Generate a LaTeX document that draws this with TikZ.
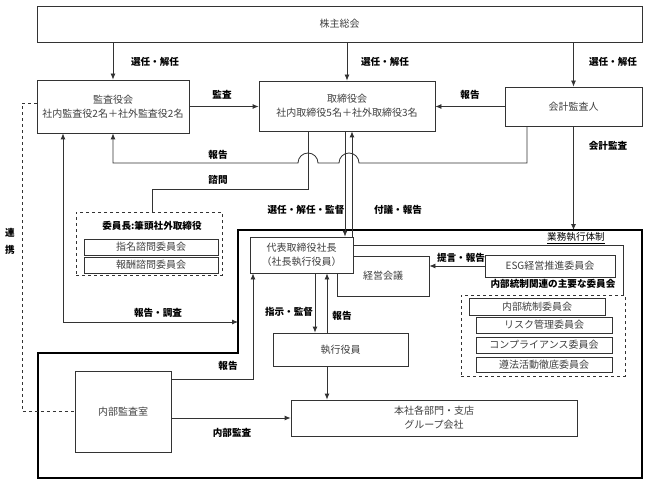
\documentclass[tikz,border=0pt]{standalone}
\usepackage{fontspec}
\setmainfont{Noto Sans CJK JP}
\usetikzlibrary{arrows.meta,positioning}

\begin{document}
\begin{tikzpicture}[x=1pt,y=-1pt]

\tikzset{box/.style={draw=black!80,line width=.8pt,fill=white,inner sep=0pt,shape=rectangle,text=black!75,align=center,font=\fontsize{10}{14}\selectfont},
dbox/.style={draw=black!80,line width=.7pt,dashed,inner sep=0pt,shape=rectangle},
lbl/.style={inner sep=1pt,align=center,font=\fontsize{9.6}{17}\selectfont\bfseries},
conn/.style={draw=black!80,line width=.8pt},
arr/.style={conn,-{Latex[length=6pt,width=5pt]}},
frame/.style={draw=black,line width=2pt}}

\useasboundingbox (0,0) rectangle (648,484);

% 業務執行体制
\draw[frame] (238,230) -- (642,230) -- (642,478) -- (38,478) -- (38,353) -- (238,353) -- cycle;
\node (gyomu) at (576,238) {\fontsize{9.6}{12}\selectfont\underline{業務執行体制}};

% Boxes
\node (soukai) [box,minimum width=605pt,minimum height=36pt] at (339.5,24) {株主総会};
\node (kansa) [box,minimum width=152pt,minimum height=53pt] at (113,106.5) {監査役会\\社内監査役2名＋社外監査役2名};
\node (tori) [box,minimum width=176pt,minimum height=50pt] at (347,106) {取締役会\\社内取締役5名＋社外取締役3名};
\node (kaikei) [box,minimum width=137pt,minimum height=39pt] at (573.5,106.5) {会計監査人};

\node (iin) [dbox,minimum width=146pt,minimum height=63pt] at (149,243.5) {};
\node (iinlbl) [lbl] at (152,226) {委員長:筆頭社外取締役};
\node (shimei) [box,minimum width=134pt,minimum height=16pt] at (151,247) {指名諮問委員会};
\node (houshu) [box,minimum width=134pt,minimum height=16pt] at (151,265) {報酬諮問委員会};

\node (keiei) [box,minimum width=92pt,minimum height=40pt] at (383,276) {経営会議};
\node (shacho) [box,minimum width=103pt,minimum height=36pt] at (301.5,255) {代表取締役社長\\（社長執行役員）};
\node (esg) [box,minimum width=130pt,minimum height=22pt] at (550,266) {ESG経営推進委員会};
\node (naibulbl) [lbl] at (553,284) {内部統制関連の主要な委員会};

\node (nt) [dbox,minimum width=164pt,minimum height=81pt] at (543,335.5) {};
\node (c1) [box,minimum width=136pt,minimum height=17pt] at (537,306.5) {内部統制委員会};
\node (c2) [box,minimum width=136pt,minimum height=16pt] at (544,325) {リスク管理委員会};
\node (c3) [box,minimum width=136pt,minimum height=16pt] at (544,345) {コンプライアンス委員会};
\node (c4) [box,minimum width=136pt,minimum height=15pt] at (544,364.5) {遵法活動徹底委員会};

\node (shikko) [box,minimum width=135pt,minimum height=33pt] at (340.5,349.5) {執行役員};
\node (honsha) [box,minimum width=286pt,minimum height=36pt] at (434,418) {本社各部門・支店\\グループ会社};
\node (naibu) [box,minimum width=96pt,minimum height=81pt] at (123,411.5) {内部監査室};

% 選任・解任
\draw[arr] (soukai.south -| kansa.north) -- (kansa.north);
\draw[arr] (soukai.south -| tori.north) -- (tori.north);
\draw[arr] (soukai.south -| kaikei.north) -- (kaikei.north);

% 監査 / 報告
\draw[arr] (kansa.east) -- (kansa.east -| tori.west);
\draw[arr] (kaikei.west) -- (kaikei.west -| tori.east);

% 報告 (会計監査人 -> 監査役会), with hops
\coordinate (k1) at (527,163);
\draw[arr] (kaikei.south -| k1) -- (k1) -- (359,163) arc[start angle=0,end angle=180,radius=10pt]
  -- (318,163) arc[start angle=0,end angle=180,radius=10pt] -- (kansa.south |- k1) -- (kansa.south);

% 諮問
\coordinate (s1) at (308,189);
\draw[conn] (tori.south -| s1) -- (s1) -- (iinlbl |- s1) -- (iinlbl |- iin.north);

% 選任・解任・監督 / 付議・報告
\coordinate (d1) at (345,0);
\coordinate (d2) at (352,0);
\draw[arr] (tori.south -| d1) -- (shacho.north -| d1);
\draw[arr] (shacho.north -| d2) -- (tori.south -| d2);

% 会計監査
\coordinate (f1) at (573.5,230);
\draw[arr] (kaikei.south) -- (f1);

% 報告・調査
\coordinate (r1) at (63,322);
\coordinate (r2) at (238,322);
\draw[conn,{Latex[length=6pt,width=5pt]}-{Latex[length=6pt,width=5pt]}] (kansa.south -| r1) -- (r1) -- (r2);

% 連携
\coordinate (t1) at (22,103);
\coordinate (t2) at (22,411.5);
\draw[conn,dashed] (kansa.west |- t1) -- (t1) -- (t2) -- (naibu.west);

% 指示・監督 / 報告
\coordinate (e1) at (315,0);
\coordinate (e2) at (327,0);
\draw[arr] (shacho.south -| e1) -- (shikko.north -| e1);
\draw[arr] (shikko.north -| e2) -- (shacho.south -| e2);
\draw[arr] (shikko.south -| e2) -- (honsha.north -| e2);

% 内部監査 / 報告
\draw[arr] (naibu.east |- honsha.west) -- (honsha.west);
\coordinate (n1) at (253,379);
\draw[arr] (naibu.east |- n1) -- (n1) -- (shacho.south -| n1);

% 提言・報告
\draw[arr] (esg.west) -- (esg.west -| keiei.east);
\coordinate (g1) at (623,245);
\draw[conn] (shacho.east |- g1) -- (g1) -- (g1 |- nt.north);

% Labels
\node (l1) [lbl] at (155,62) {選任・解任};
\node (l2) [lbl] at (385,62) {選任・解任};
\node (l3) [lbl] at (613,62) {選任・解任};
\node (l4) [lbl] at (222,95) {監査};
\node (l5) [lbl] at (470,95) {報告};
\node (l6) [lbl] at (218,155) {報告};
\node (l7) [lbl] at (218,180) {諮問};
\node (l8) [lbl] at (306,210) {選任・解任・監督};
\node (l9) [lbl] at (398,210) {付議・報告};
\node (l10) [lbl] at (608,146) {会計監査};
\node (l11) [lbl] at (10,241) {連\\携};
\node (l12) [lbl] at (158,313) {報告・調査};
\node (l13) [lbl] at (289,312) {指示・監督};
\node (l14) [lbl] at (342,316) {報告};
\node (l15) [lbl] at (228,366) {報告};
\node (l16) [lbl] at (232,433) {内部監査};
\node (l17) [lbl] at (461,258) {提言・報告};

\end{tikzpicture}
\end{document}
